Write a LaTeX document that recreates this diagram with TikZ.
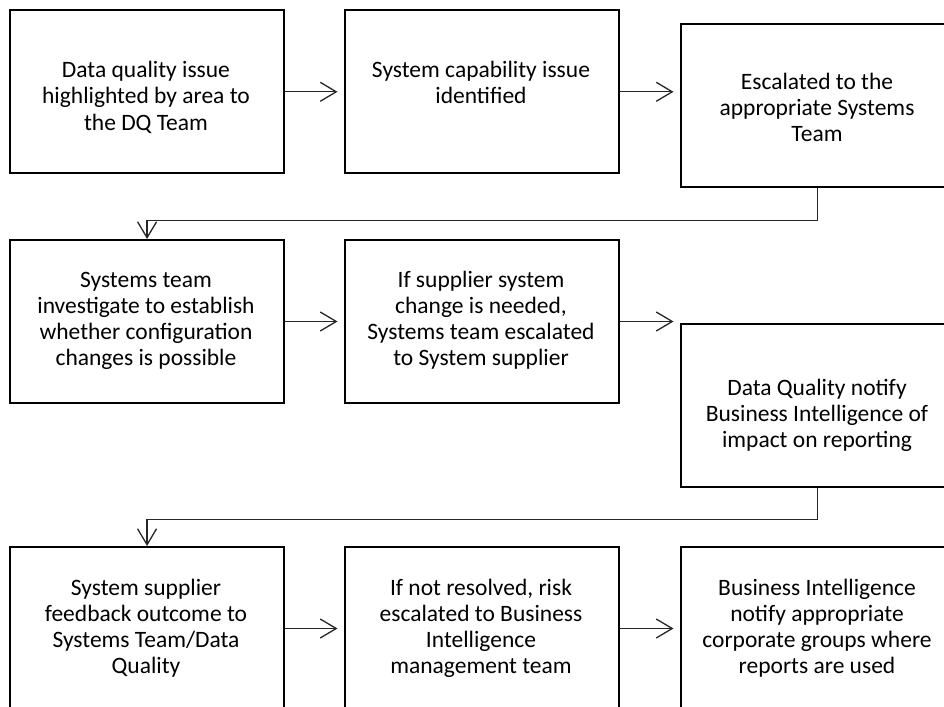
\documentclass[tikz,border=0pt]{standalone}
\usepackage{fontspec}
\setmainfont{Carlito}
\usetikzlibrary{arrows.meta}
\begin{document}
\begin{tikzpicture}[x=1pt,y=-1pt,
  stepbox/.style={draw=black, line width=2pt, minimum width=273.5pt,
    minimum height=163pt, anchor=north west, inner sep=0pt},
  boxtext/.style={anchor=base, align=center, inner sep=0pt,
    font=\fontsize{23.5}{26}\selectfont},
  flow/.style={draw=black!85, line width=1.3pt,
    -{Straight Barb[length=16pt,width=19pt,line width=1.3pt]}},
  side/.style={flow, shorten >=6.5pt},
]
\useasboundingbox (0,0) rectangle (944,706);
\clip (0,0) rectangle (944,706);

% first row
\node[stepbox] (b1) at (9.3,9.3) {};
\node[stepbox] (b2) at (344,9.3) {};
\node[stepbox] (b3) at (680,23.3) {};
% second row
\node[stepbox] (b4) at (9.3,239) {};
\node[stepbox] (b5) at (344,239) {};
\node[stepbox] (b6) at (680,323.3) {};
% third row
\node[stepbox] (b7) at (9.3,546) {};
\node[stepbox] (b8) at (344,546) {};
\node[stepbox] (b9) at (680,546) {};

% box texts, placed by the baseline of their last line
\node[boxtext] (t1) at (146,130) {Data quality issue\\highlighted by area to\\the DQ Team};
\node[boxtext] (t2) at (481,104) {System capability issue\\identified};
\node[boxtext] (t3) at (817,142) {Escalated to the\\appropriate Systems\\Team};
\node[boxtext] (t4) at (146,365) {Systems team\\investigate to establish\\whether configuration\\changes is possible};
\node[boxtext] (t5) at (481,365) {If supplier system\\change is needed,\\Systems team escalated\\to System supplier};
\node[boxtext] (t6) at (817,447) {Data Quality notify\\Business Intelligence of\\impact on reporting};
\node[boxtext] (t7) at (146,673) {System supplier\\feedback outcome to\\Systems Team/Data\\Quality};
\node[boxtext] (t8) at (481,673) {If not resolved, risk\\escalated to Business\\Intelligence\\management team};
\node[boxtext] (t9) at (817,673) {Business Intelligence\\notify appropriate\\corporate groups where\\reports are used};

% connectors within rows
\draw[side] (b1.east) -- (b2.west |- b1.east);
\draw[side] (b2.east) -- (b3.west |- b2.east);
\draw[side] (b4.east) -- (b5.west |- b4.east);
\draw[side] (b5.east) -- (b6.west |- b5.east);
\draw[side] (b7.east) -- (b8.west |- b7.east);
\draw[side] (b8.east) -- (b9.west |- b8.east);

% connectors between rows
\draw[flow] (b3.south) -- ++(0,32) -| (b4.north);
\draw[flow] (b6.south) -- ++(0,31.3) -| (b7.north);
\end{tikzpicture}
\end{document}
